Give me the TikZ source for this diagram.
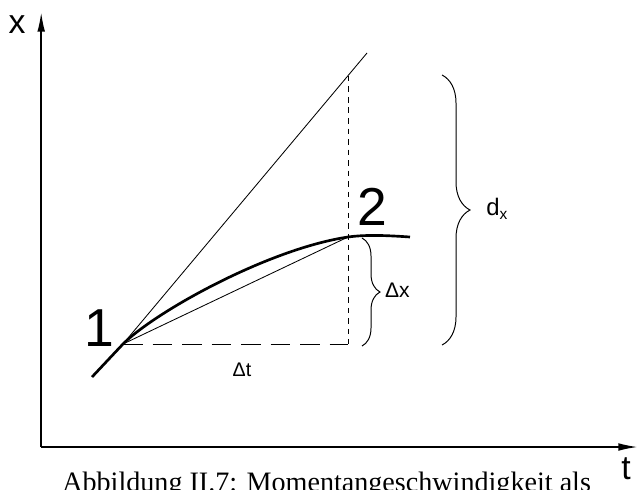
\documentclass[tikz,border=0pt]{standalone}
\usepackage{fontspec}
\setmainfont{Liberation Serif}
\setsansfont{Liberation Sans}
\usepackage{tikz}
\usetikzlibrary{arrows.meta,positioning,calc,decorations.pathreplacing}

\begin{document}
\begin{tikzpicture}[>={Latex[length=14pt,width=5.5pt]},every node/.style={font=\sffamily,inner sep=0pt},
  thinline/.style={line width=0.6pt},
  dashline/.style={line width=0.6pt,dash pattern=on 14pt off 7pt},
  dotline/.style={line width=0.6pt,dash pattern=on 4pt off 3.5pt},
  bracefig/.style={line width=0.7pt,decorate,decoration={brace,amplitude=#1}}]
\useasboundingbox (0,0) rectangle (15.975,12.225);
% axes
\coordinate (orig) at (1.03,1.05);
\coordinate (ytop) at (1.03,11.925);
\coordinate (xend) at (15.95,1.05);
\draw[->,line width=1.3pt] (orig) -- (ytop);
\draw[->,line width=1.3pt] (orig) -- (xend);
\node (labx) at (0.425,11.6) {\fontsize{24}{24}\selectfont x};
\node (labt) at (15.65,0.5) {\fontsize{24}{24}\selectfont t};
% points
\coordinate (start) at (2.3,2.8);
\coordinate (p1) at (3.075,3.625);
\coordinate (p2) at (8.7,6.3);
\coordinate (cend) at (10.25,6.3);
\coordinate (ttop) at (9.175,10.9);
\coordinate (tcut) at (8.7,10.33);
\coordinate (corner) at (8.7,3.625);
% curve, tangent, secant
\draw[line width=1.9pt] (start) -- (p1) .. controls (3.875,4.425) and (6.7,6.0) .. (p2)
  .. controls (9.2,6.37) and (9.8,6.33) .. (cend);
\draw[thinline] (p1) -- (ttop);
\draw[thinline] (p1) -- (p2);
\draw[dashline] (p1) -- (corner);
\draw[dotline] (tcut) -- (corner);
\node (lab1) at (2.475,4.025) {\fontsize{38}{38}\selectfont 1};
\node (lab2) at (9.3,7.05) {\fontsize{38}{38}\selectfont 2};
\node (labdt) at (6.05,2.975) {\fontsize{14}{14}\selectfont Δt};
% braces
\coordinate (bx1) at (9.05,6.275);
\coordinate (bx2) at (9.05,3.575);
\draw[bracefig=0.45cm] (bx1) -- (bx2);
\node[anchor=west] (labdx) at (9.62,4.975) {\fontsize{15}{15}\selectfont Δx};
\coordinate (bd1) at (11.05,10.35);
\coordinate (bd2) at (11.05,3.6);
\draw[bracefig=0.7cm] (bd1) -- (bd2);
\node[anchor=west] (labd) at (12.15,7.0) {\fontsize{17}{17}\selectfont d\textsubscript{\fontsize{11}{11}\selectfont x}};
% caption
\node[anchor=base west,font=\rmfamily] (capt) at (1.55,-0.05) {\fontsize{20}{20}\selectfont Abbildung II.7: Momentangeschwindigkeit als};
\end{tikzpicture}
\end{document}
